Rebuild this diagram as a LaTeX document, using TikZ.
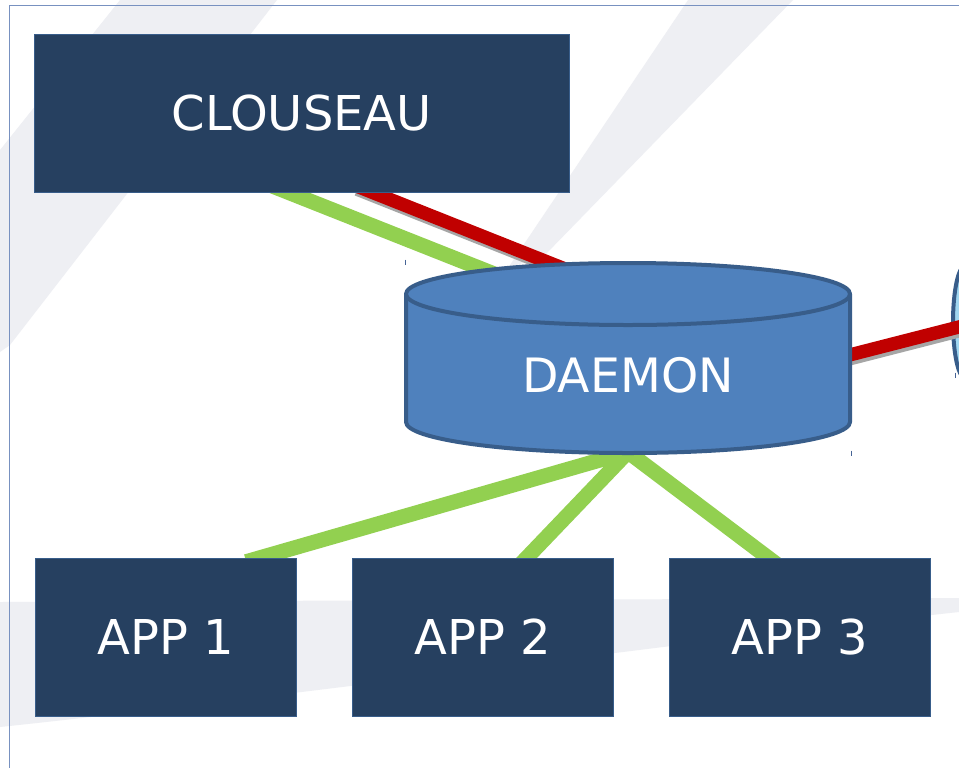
\documentclass[tikz,border=0pt]{standalone}
\usepackage{fontspec}
\setmainfont{DejaVu Sans}
\usetikzlibrary{backgrounds}
\usetikzlibrary{calc}
\usetikzlibrary{shapes.geometric}

\begin{document}
\begin{tikzpicture}[x=0.75pt,y=0.75pt,yscale=-1,xscale=1,
  boxnode/.style={draw={rgb, 255:red, 56; green, 93; blue, 138}, line width=0.5pt, fill={rgb, 255:red, 38; green, 64; blue, 96}, text=white, font=\fontsize{36pt}{43pt}\selectfont, inner sep=0pt, outer sep=0pt},
  dmshape/.style={fill={rgb, 255:red, 79; green, 129; blue, 189}, draw={rgb, 255:red, 56; green, 93; blue, 138}, line width=3pt, line join=round},
  dmtext/.style={text=white, font=\fontsize{35.5pt}{43pt}\selectfont, inner sep=0pt},
  peershape/.style={ellipse, fill={rgb, 255:red, 160; green, 214; blue, 240}, draw={rgb, 255:red, 56; green, 93; blue, 138}, line width=3pt, inner sep=0pt},
  greenlink/.style={draw={rgb, 255:red, 146; green, 208; blue, 80}, line width=11.25pt},
  redlink/.style={draw={rgb, 255:red, 192; green, 0; blue, 0}, line width=10pt},
  redshadow/.style={draw={rgb, 255:red, 166; green, 166; blue, 166}, line width=10pt},
  wmark/.style={fill={rgb, 255:red, 238; green, 239; blue, 243}},
  frame/.style={draw={rgb, 255:red, 120; green, 145; blue, 192}, line width=0.75pt},
  tick/.style={draw={rgb, 255:red, 70; green, 100; blue, 150}, line width=0.75pt}]
\useasboundingbox (0,0) rectangle (959,768);

%Shape: Rectangle [clouseau]
\node[boxnode, minimum width=401pt, minimum height=119pt] (clouseau) at (301.7,113.3) {CLOUSEAU};
%Shape: Rectangle [app boxes]
\foreach \i/\px in {1/165.5, 2/482.5, 3/799.5}
  \node[boxnode, minimum width=195.75pt, minimum height=118.5pt] (app\i) at (\px,637) {APP \i};

%Shape: Can [daemon]
\fill[dmshape, draw=none] (406,294) -- (406,422) arc [start angle=180, end angle=0, x radius=222, y radius=31] -- (850,294) -- cycle;
\draw[dmshape, fill=none] (406,294) -- (406,422) arc [start angle=180, end angle=0, x radius=222, y radius=31] -- (850,294);
\draw[dmshape] (628,294) ellipse [x radius=222, y radius=31];
% Text Node
\node[dmtext] (daemon) at (628,375) {DAEMON};

%connector ends under the can
\coordinate (daemon-top) at (628,294);
\coordinate (daemon-in) at (560,300);
\coordinate (daemon-bot) at (628,452);
\coordinate (daemon-east) at (828,360.5);

%selection ticks
\foreach \tx/\ty in {405.5/262, 851.5/453, 955.5/375}
  \draw[tick] (\tx,\ty-2.5) -- (\tx,\ty+2.5);

%Straight Lines [frame]
\draw[frame] (959,5.3) -- (9.5,5.3) -- (9.5,768);

\begin{scope}[on background layer]
\fill[white] (0,0) rectangle (959,768);
%Shape: watermark stripes
\fill[wmark] (120,0) -- (277,0) -- (10,345) -- (0,352) -- (0,150) -- cycle;
\fill[wmark] (688,0) -- (793,0) -- (545,255) -- (508,268) -- cycle;
\fill[wmark] (0,602) -- (959,598) -- (959,612) .. controls (700,640) and (300,695) .. (0,727) -- cycle;

%Shape: Ellipse [peer]
\node[peershape, minimum width=18pt, minimum height=84pt] (peer) at (965,322) {};

%Straight Lines [clouseau - daemon]
\draw[greenlink, shorten <=-14pt] ($(clouseau.south)+(-12.7,0)$) -- (daemon-in);
\draw[redshadow, shorten <=-14pt] ($(clouseau.south)+(72.8,3.5)$) -- ($(daemon-top)+(1.5,3.5)$);
\draw[redlink, shorten <=-14pt] ($(clouseau.south)+(71.3,0)$) -- (daemon-top);
%Straight Lines [daemon - peer]
\draw[redshadow] ($(daemon-east)+(1.5,3.5)$) -- ($(peer.center)+(26.5,0.5)$);
\draw[redlink] (daemon-east) -- ($(peer.center)+(25,-3)$);
%Straight Lines [daemon - apps]
\draw[greenlink, shorten >=-10pt] (daemon-bot) -- ($(app1.north)+(93.5,0)$);
\draw[greenlink, shorten >=-10pt] (daemon-bot) -- ($(app2.north)+(44,0)$);
\draw[greenlink, shorten >=-10pt] (daemon-bot) -- ($(app3.north)+(-31,0)$);
\end{scope}

\end{tikzpicture}
\end{document}
